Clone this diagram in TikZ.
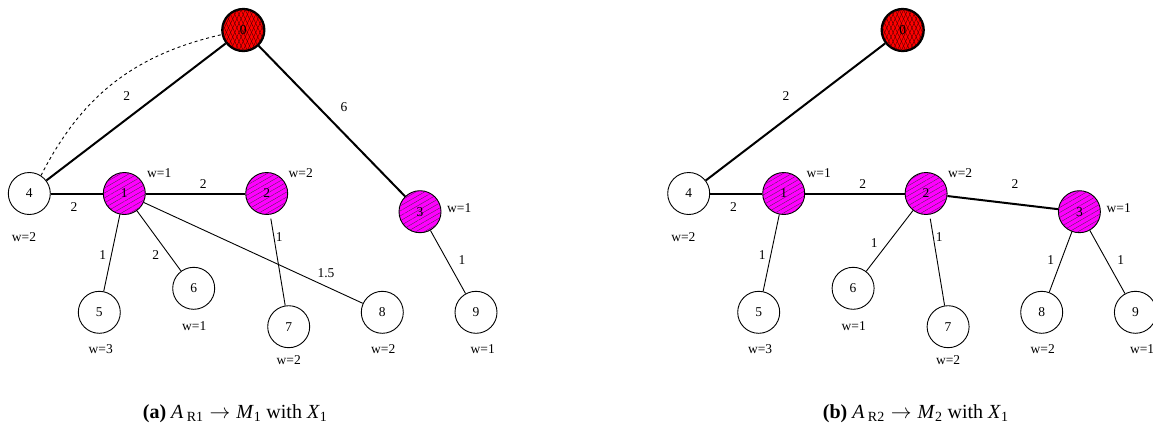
\documentclass[tikz,border=0pt]{standalone}
\usepackage{fontspec}
\setmainfont{Liberation Serif}
\usetikzlibrary{patterns.meta}

\definecolor{hubfill}{RGB}{255,0,255}
\definecolor{rootfill}{RGB}{255,0,0}

\tikzset{
  vtx/.style={circle, draw, line width=0.9pt, minimum size=42pt, inner sep=0pt,
    font=\fontsize{13.5}{14}\selectfont},
  plain/.style={vtx, fill=white},
  hub/.style={vtx, fill=hubfill,
    postaction={pattern={Lines[angle=30,distance=4.3pt,line width=0.3pt]}, pattern color=black!80}},
  root/.style={vtx, line width=2.3pt, fill=rootfill,
    postaction={pattern={Lines[angle=65,distance=3.8pt,line width=0.35pt]}, pattern color=black!75!red},
    postaction={pattern={Lines[angle=115,distance=3.8pt,line width=0.35pt]}, pattern color=black!75!red}},
  heavy/.style={line width=2pt},
  light/.style={line width=0.9pt},
  lbl/.style={inner sep=0pt, font=\fontsize{13.5}{14}\selectfont},
  caption/.style={anchor=base west, inner sep=0pt, font=\fontsize{20}{22}\selectfont},
}

\begin{document}
\begin{tikzpicture}[x=1pt,y=-1pt]
\useasboundingbox (0,0) rectangle (1153,437);

% ---------- (a) ----------
\begin{scope}
  \node[root]  (a0) at (243.3,30)    {0};
  \node[plain] (a4) at (29.3,193.5)  {4};
  \node[hub]   (a1) at (124.3,193.5) {1};
  \node[hub]   (a2) at (266.7,193.5) {2};
  \node[hub]   (a3) at (420,211.7)   {3};
  \node[plain] (a5) at (99.3,312.3)  {5};
  \node[plain] (a6) at (193.7,288.3) {6};
  \node[plain] (a7) at (288.7,326.7) {7};
  \node[plain] (a8) at (382.3,312.3) {8};
  \node[plain] (a9) at (476,312.3)   {9};

  \draw[heavy] (a0) -- (a4);
  \draw[heavy] (a0) -- (a3);
  \draw[heavy] (a4) -- (a1);
  \draw[heavy] (a1) -- (a2);
  \draw[light] (a1) -- (a5);
  \draw[light] (a1) -- (a6);
  \draw[light] (a1) -- (a8);
  \draw[light, shorten <=4pt] (a2) -- (a7);
  \draw[light] (a3) -- (a9);
  \draw[light, dashed] (a4.57) to[bend left=25] (a0.192);

  \node[lbl] (aw1) at (159.3,173.3) {w=1};
  \node[lbl] (aw2) at (300.7,173.3) {w=2};
  \node[lbl] (aw3) at (459.3,207.7) {w=1};
  \node[lbl] (aw4) at (24,237.3)    {w=2};
  \node[lbl] (aw5) at (100.7,349)   {w=3};
  \node[lbl] (aw6) at (194.3,325.7) {w=1};
  \node[lbl] (aw7) at (288.7,360)   {w=2};
  \node[lbl] (aw8) at (383.3,349)   {w=2};
  \node[lbl] (aw9) at (482.7,349)   {w=1};

  \node[lbl] (ae04) at (126.7,96)    {2};
  \node[lbl] (ae03) at (344,107.3)   {6};
  \node[lbl] (ae41) at (74,207.3)    {2};
  \node[lbl] (ae12) at (203.3,184.3) {2};
  \node[lbl] (ae15) at (102.7,255)   {1};
  \node[lbl] (ae16) at (155.7,255)   {2};
  \node[lbl] (ae18) at (326,272.7)   {1.5};
  \node[lbl] (ae27) at (279.3,236.7) {1};
  \node[lbl] (ae39) at (462,260)     {1};
\end{scope}

% ---------- (b) ----------
\begin{scope}[xshift=659.4]
  \node[root]  (b0) at (243.3,30)    {0};
  \node[plain] (b4) at (29.3,193.5)  {4};
  \node[hub]   (b1) at (124.3,193.5) {1};
  \node[hub]   (b2) at (266.7,193.5) {2};
  \node[hub]   (b3) at (420,211.7)   {3};
  \node[plain] (b5) at (99.3,312.3)  {5};
  \node[plain] (b6) at (193.7,288.3) {6};
  \node[plain] (b7) at (288.7,326.7) {7};
  \node[plain] (b8) at (382.3,312.3) {8};
  \node[plain] (b9) at (476,312.3)   {9};

  \draw[heavy] (b0) -- (b4);
  \draw[heavy] (b4) -- (b1);
  \draw[heavy] (b1) -- (b2);
  \draw[heavy] (b2) -- (b3);
  \draw[light] (b1) -- (b5);
  \draw[light] (b2) -- (b6);
  \draw[light, shorten <=4pt] (b2) -- (b7);
  \draw[light] (b3) -- (b8);
  \draw[light] (b3) -- (b9);

  \node[lbl] (bw1) at (159.3,173.3) {w=1};
  \node[lbl] (bw2) at (300.7,173.3) {w=2};
  \node[lbl] (bw3) at (459.3,207.7) {w=1};
  \node[lbl] (bw4) at (24,237.3)    {w=2};
  \node[lbl] (bw5) at (100.7,349)   {w=3};
  \node[lbl] (bw6) at (194.3,325.7) {w=1};
  \node[lbl] (bw7) at (288.7,360)   {w=2};
  \node[lbl] (bw8) at (383.3,349)   {w=2};
  \node[lbl] (bw9) at (482.7,349)   {w=1};

  \node[lbl] (be04) at (126.7,96)    {2};
  \node[lbl] (be41) at (74,207.3)    {2};
  \node[lbl] (be12) at (203.3,184.3) {2};
  \node[lbl] (be23) at (355.6,184.3) {2};
  \node[lbl] (be15) at (102.9,255)   {1};
  \node[lbl] (be26) at (214.9,242.7) {1};
  \node[lbl] (be27) at (279.9,236.7) {1};
  \node[lbl] (be38) at (391.3,260)   {1};
  \node[lbl] (be39) at (461.3,260)   {1};
\end{scope}

% ---------- captions ----------
\node[caption] (capa) at (142.7,418.3)
  {\textbf{(a)} \textit{A}\,\textsubscript{R1}\hspace{0.3em}$\rightarrow$\hspace{0.3em}\textit{M}\textsubscript{1} with \textit{X}\textsubscript{1}};
\node[caption] (capb) at (822.7,418.3)
  {\textbf{(b)} \textit{A}\,\textsubscript{R2}\hspace{0.3em}$\rightarrow$\hspace{0.3em}\textit{M}\textsubscript{2} with \textit{X}\textsubscript{1}};
\end{tikzpicture}
\end{document}
